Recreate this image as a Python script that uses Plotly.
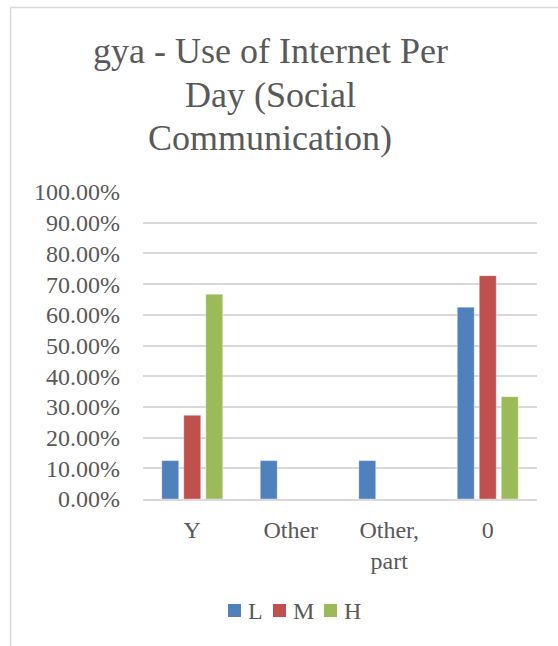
import plotly.graph_objects as go

# Share of respondents per internet-use category, split by group
categories = ["Y", "Other", "Other,<br>part", "0"]
series_names = ["L", "M", "H"]
values_L = [0.125, 0.125, 0.125, 0.625]
values_M = [0.2727, 0.0, 0.0, 0.7273]
values_H = [0.6667, 0.0, 0.0, 0.3333]
y_ticks = [0.0, 0.1, 0.2, 0.3, 0.4, 0.5, 0.6, 0.7, 0.8, 0.9, 1.0]
title_lines = ["gya - Use of Internet Per", "Day (Social", "Communication)"]

colors = {"L": "#4F81BD", "M": "#C0504D", "H": "#9BBB59"}
text_color = "#595959"
grid_color = "#D9D9D9"
font_family = "Liberation Serif, DejaVu Serif, serif"

W, H = 558, 646
plot_left, plot_right = 143, 537
plot_top, plot_bottom = 192, 499

fig = go.Figure()
for name, vals in zip(series_names, [values_L, values_M, values_H]):
    fig.add_trace(go.Bar(
        name=name,
        x=categories,
        y=vals,
        marker=dict(color=colors[name],
                    line=dict(color="rgba(255,255,255,0.35)", width=1)),
        hoverinfo="x+y+name",
        showlegend=False,
    ))


def px_x(px):
    return (px - plot_left) / (plot_right - plot_left)


def px_y(py):
    return (plot_bottom - py) / (plot_bottom - plot_top)


# Chart frame: top and left edges
shapes = [
    dict(type="line", xref="paper", yref="paper",
         x0=px_x(10.5), x1=px_x(560), y0=px_y(7.5), y1=px_y(7.5),
         line=dict(color=grid_color, width=1.5)),
    dict(type="line", xref="paper", yref="paper",
         x0=px_x(10.5), x1=px_x(10.5), y0=px_y(7.5), y1=px_y(650),
         line=dict(color=grid_color, width=1.5)),
]
annotations = []

# Title, one line per annotation
for line, cy in zip(title_lines, [51, 95, 138]):
    annotations.append(dict(
        text=line, xref="paper", yref="paper",
        x=px_x(270), y=px_y(cy), xanchor="center", yanchor="middle",
        showarrow=False,
        font=dict(family=font_family, size=36, color=text_color),
    ))

# Legend: colour swatch followed by series name
legend_swatch_x = [228, 273, 324]
swatch = 13
legend_cy = 610.5
for name, sx in zip(series_names, legend_swatch_x):
    shapes.append(dict(
        type="rect", xref="paper", yref="paper",
        x0=px_x(sx), x1=px_x(sx + swatch),
        y0=px_y(legend_cy - swatch / 2), y1=px_y(legend_cy + swatch / 2),
        fillcolor=colors[name], line=dict(width=0),
    ))
    annotations.append(dict(
        text=name, xref="paper", yref="paper",
        x=px_x(sx + swatch + 5), y=px_y(legend_cy), xanchor="left",
        yanchor="middle", showarrow=False,
        font=dict(family=font_family, size=24, color=text_color),
    ))

fig.update_layout(
    width=W, height=H,
    margin=dict(l=plot_left, r=W - plot_right, t=plot_top, b=H - plot_bottom,
                pad=0),
    paper_bgcolor="white",
    plot_bgcolor="white",
    font=dict(family=font_family, color=text_color, size=24),
    barmode="group",
    bargap=0.33,
    bargroupgap=0.23,
    showlegend=False,
    xaxis=dict(
        type="category",
        showgrid=False,
        showline=True, linecolor=grid_color, linewidth=1.5,
        ticks="",
        ticklabelstandoff=8,
        tickfont=dict(size=24, color=text_color),
    ),
    yaxis=dict(
        range=[0, 1.0],
        tickvals=y_ticks,
        tickformat=".2%",
        showgrid=True, gridcolor=grid_color, gridwidth=1.5,
        zeroline=False,
        showline=False,
        ticks="",
        ticklabelstandoff=22,
        tickfont=dict(size=24, color=text_color),
    ),
    shapes=shapes,
    annotations=annotations,
)

fig.write_html("out.html")
